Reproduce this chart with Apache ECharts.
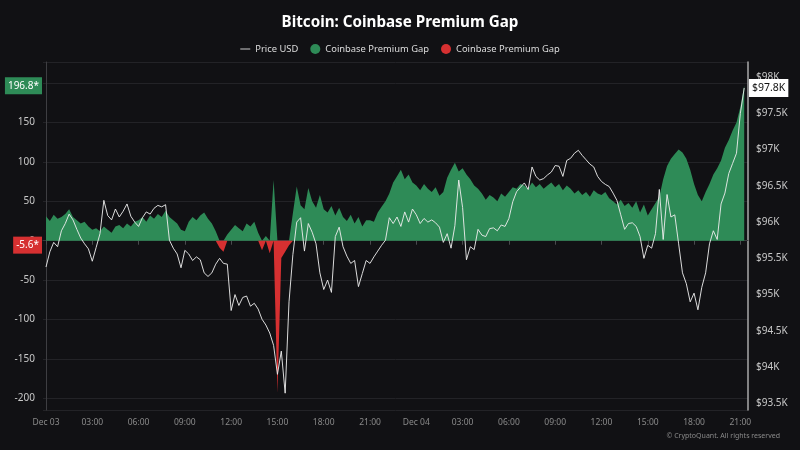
<!DOCTYPE html>
<html><head><meta charset="utf-8">
<script src="https://cdn.jsdelivr.net/npm/echarts@6/dist/echarts.min.js"></script>
<style>html,body{margin:0;padding:0;background:#111114;}#c{width:800px;height:450px;}</style>
</head><body><div id="c"></div>
<script>
// 15-minute samples starting Dec 03 00:00
const dayLabels = ['Dec 03', 'Dec 04'];
const stepHours = 0.25;
const premiumGap = [
  31, 25, 33, 28,  30, 34, 40, 30,  26, 22, 24, 18,  14, 16, 12, 18,
  14, 10, 18, 20,  16, 22, 18, 24,  26, 30, 24, 32,  28, 34, 30, 38,
  30, 26, 22, 14,  12, 24, 30, 26,  32, 36, 28, 22,  12, -9, -14, 8,
  14, 20, 16, 12,  22, 18, 24, 10,  -12, 6, -16, 77,  -193, -22, -14, -5.6,
  35, 69, 45, 40,  67, 50, 42, 58,  40, 36, 44, 32,  42, 30, 25, 33,
  22, 30, 18, 26,  26, 24, 36, 43,  50, 60, 74, 82,  90, 78, 84, 74,
  70, 64, 72, 66,  62, 68, 57, 62,  80, 90, 99, 88,  92, 84, 78, 70,
  66, 60, 52, 58,  55, 50, 60, 56,  62, 68, 66, 72,  70, 66, 74, 68,
  72, 66, 70, 74,  68, 72, 64, 70,  66, 60, 64, 58,  62, 56, 64, 60,
  58, 62, 54, 50,  46, 52, 44, 48,  42, 50, 36, 46,  32, 40, 48, 56,
  78, 95, 104, 110,  116, 112, 104, 90,  72, 58, 50, 62,  72, 84, 92, 102,
  118, 128, 140, 150,  170, 196.8
];
const priceUsd = [
  95380, 95590, 95720, 95660, 95880, 95980, 96110, 96030, 95900, 95780,
  95700, 95630, 95460, 95650, 95840, 96300, 96090, 96030, 96180, 96070,
  96150, 96250, 96080, 96000, 95940, 96060, 96140, 96110, 96190, 96230,
  96210, 96240, 95750, 95640, 95560, 95370, 95610, 95560, 95470, 95520,
  95480, 95300, 95250, 95300, 95420, 95500,
  95430, 95420, 94780, 95000, 94850, 94960, 94980, 94840, 94880, 94800,
  94660, 94580, 94470, 94300, 93900, 94220, 93640, 94900, 95550, 96000,
  96060, 95600, 95980, 95860, 95700, 95300, 95070, 95200, 95030, 95800,
  95930, 95660, 95530, 95430, 95470, 95110, 95290, 95470, 95430, 95520,
  95600, 95680, 95750, 96060, 95980, 96070,
  95940, 96140, 96000, 96180, 96100, 95980, 96050, 96000, 96030, 95990,
  95930, 95720, 95840, 95640, 95950, 96580, 96200, 95480, 95660, 95620,
  95900, 95820, 95800, 95910, 95920, 95880, 95960, 95940, 96050, 96280,
  96420, 96480, 96540, 96450, 96760, 96630, 96580, 96600, 96650, 96690,
  96780, 96770, 96630, 96850, 96880, 96950,
  96990, 96920, 96860, 96800, 96760, 96630, 96560, 96520, 96490, 96400,
  96300, 96100, 95900, 95980, 95990, 95940, 95800, 95500, 95680, 95640,
  95840, 96450, 95760, 96380, 96070, 96100, 95700, 95300, 95150, 94900,
  95020, 94790, 95100, 95300, 95700, 95880, 95760, 96250, 96400, 96670,
  96810, 96950, 97500, 97850
];

const GREEN = '#2e8b57', RED = '#d63031';
const G_NAME = 'Coinbase Premium Gap+', R_NAME = 'Coinbase Premium Gap-';
const hours = premiumGap.map((_, i) => i * stepHours);
const posData = premiumGap.map((v, i) => [hours[i], v > 0 ? v : 0]);
const negData = premiumGap.map((v, i) => [hours[i], v < 0 ? v : 0]);
const priceData = priceUsd.map((v, i) => [i * stepHours, v]);
const lastPos = premiumGap.filter(v => v > 0).slice(-1)[0];
const lastNeg = premiumGap.filter(v => v < 0).slice(-1)[0];
const lastPrice = priceUsd[priceUsd.length - 1];
const pad = n => (n < 10 ? '0' : '') + n;

function tag(value, text, bg, fg, pos, size, padding) {
  return {
    silent: true, symbol: ['none', 'none'], animation: false,
    lineStyle: { color: 'rgba(0,0,0,0)', width: 0, type: 'solid' },
    data: [{ yAxis: value }],
    label: {
      show: true, position: pos, distance: 1, formatter: text, color: fg,
      backgroundColor: bg, padding: padding, fontSize: size, fontFamily: 'Noto Sans'
    }
  };
}

const chart = echarts.init(document.getElementById('c'));
chart.setOption({
  backgroundColor: '#111114',
  animation: false,
  textStyle: { fontFamily: 'Noto Sans' },
  title: {
    text: 'Bitcoin: Coinbase Premium Gap', left: 'center', top: 10,
    textStyle: { color: '#ffffff', fontSize: 15.2, fontWeight: 'bold', fontFamily: 'Noto Sans' }
  },
  legend: {
    top: 39, left: 'center', itemGap: 12, itemWidth: 10, itemHeight: 10,
    textStyle: { color: '#dddddd', fontSize: 9.4 },
    formatter: n => n.replace(/[+-]$/, ''),
    data: [
      { name: 'Price USD', icon: 'path://M0,0 L10,0 L10,1 L0,1 Z', itemStyle: { color: '#cccccc' } },
      { name: G_NAME, icon: 'circle' },
      { name: R_NAME, icon: 'circle' }
    ]
  },
  grid: { left: 43, right: 52, top: 62, bottom: 40 },
  xAxis: {
    type: 'value', min: -0.194, max: 45.496, splitNumber: 15,
    axisLine: { lineStyle: { color: '#3a3a3e' } },
    axisTick: { show: true, length: 4, lineStyle: { color: '#4a4a4e' } },
    splitLine: { show: false },
    axisLabel: {
      color: '#8a8a8a', fontSize: 8.5, margin: 8, showMinLabel: false, showMaxLabel: false,
      formatter: v => {
        if (Math.abs(v % 3) > 1e-6) return '';
        const h = Math.round(v);
        return h % 24 === 0 ? dayLabels[h / 24] : pad(h % 24) + ':00';
      }
    }
  },
  yAxis: [
    {
      type: 'value', min: -215, max: 227, splitNumber: 9, position: 'left',
      axisLine: { show: true, lineStyle: { color: '#3e3e42' } },
      axisTick: { show: false },
      splitLine: { lineStyle: { color: '#232327' } },
      axisLabel: {
        color: '#c8c8c8', fontSize: 10, margin: 8, showMinLabel: false, showMaxLabel: false,
        formatter: v => (Math.abs(v % 50) < 1e-6 ? String(v) : '')
      }
    },
    {
      type: 'value', min: 93408, max: 98208, splitNumber: 9, position: 'right',
      axisLine: { show: true, lineStyle: { color: '#a8a8a8', width: 1.5 } },
      axisTick: { show: false },
      splitLine: { show: false },
      axisLabel: {
        color: '#c8c8c8', fontSize: 10, margin: 8, showMinLabel: false, showMaxLabel: false,
        formatter: v => (Math.abs(v % 500) < 1e-6 ? '$' + (v / 1000) + 'K' : '')
      }
    }
  ],
  series: [
    {
      name: G_NAME, type: 'line', data: posData, symbol: 'none', yAxisIndex: 0,
      itemStyle: { color: GREEN }, lineStyle: { width: 0 },
      areaStyle: { color: GREEN, opacity: 1 }, z: 2,
      markLine: tag(lastPos, lastPos + '*', GREEN, '#ffffff', 'start', 10, [4, 3, 3, 3])
    },
    {
      name: R_NAME, type: 'line', data: negData, symbol: 'none', yAxisIndex: 0,
      itemStyle: { color: RED }, lineStyle: { width: 0 },
      areaStyle: { color: RED, opacity: 1 }, z: 2,
      markLine: tag(lastNeg, lastNeg + '*', RED, '#ffffff', 'start', 10, [4, 3, 3, 3])
    },
    {
      name: 'Price USD', type: 'line', data: priceData, symbol: 'none', yAxisIndex: 1,
      itemStyle: { color: '#d8d8d8' },
      lineStyle: { color: 'rgba(235,235,235,0.92)', width: 1 }, z: 3,
      markLine: tag(lastPrice, '$' + (Math.floor(lastPrice / 100) / 10) + 'K', '#ffffff', '#111111', 'end', 10.5, [4, 3, 3, 3])
    }
  ],
  graphic: [{
    type: 'text', right: 20, top: 432,
    style: { text: '© CryptoQuant. All rights reserved', fill: '#8a8a8a', fontSize: 7, fontFamily: 'Noto Sans' }
  }]
});
</script>
</body></html>
